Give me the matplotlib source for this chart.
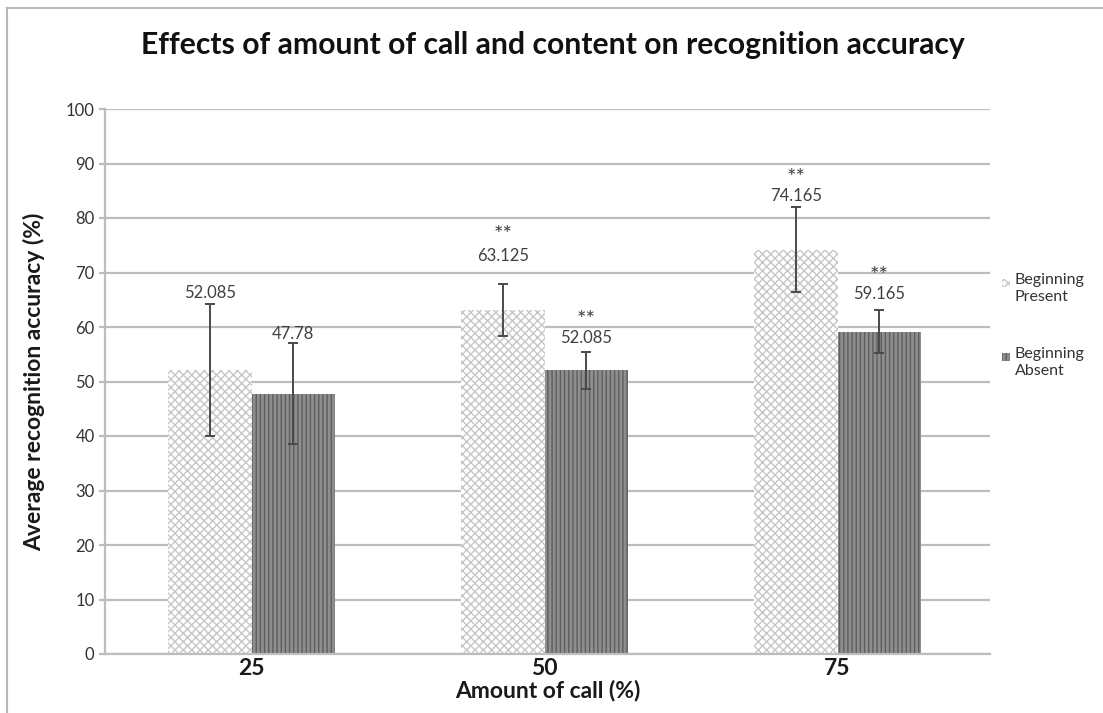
import numpy as np
import matplotlib
matplotlib.use("Agg")
import matplotlib.pyplot as plt
from matplotlib.patches import Rectangle
from matplotlib.lines import Line2D

# Data
categories = ["25", "50", "75"]
series_names = ["Beginning\nPresent", "Beginning\nAbsent"]
present_mean = [52.085, 63.125, 74.165]
absent_mean = [47.78, 52.085, 59.165]
present_err = [12.1, 4.8, 7.8]
absent_err = [9.3, 3.4, 3.9]
present_sig = ["", "**", "**"]
absent_sig = ["", "**", "**"]
y_ticks = [0, 10, 20, 30, 40, 50, 60, 70, 80, 90, 100]

plt.rcParams["font.family"] = ["Lato", "DejaVu Sans"]
plt.rcParams["hatch.linewidth"] = 1.0

W, H = 1103, 713
fig = plt.figure(figsize=(W / 100, H / 100), dpi=100)
fig.patch.set_facecolor("white")

# outer chart frame (top and left edges)
fig.add_artist(Line2D([7 / W, 1.0], [1 - 8 / H, 1 - 8 / H], color="#b8b8b8",
                      lw=1.5, transform=fig.transFigure))
fig.add_artist(Line2D([7 / W, 7 / W], [0.0, 1 - 8 / H], color="#b8b8b8",
                      lw=1.5, transform=fig.transFigure))

ax = fig.add_axes([105 / W, 1 - 654 / H, 885 / W, (654 - 109) / H])

x = np.arange(len(categories))
w = 0.285
grid_c = "#bdbdbd"

present_style = dict(facecolor="white", edgecolor="#c6c6c6", hatch="xxxx", linewidth=0)
absent_style = dict(facecolor="#8e8e8e", edgecolor="#5e5e5e", hatch="||||", linewidth=0)

ax.set_axisbelow(True)
ax.yaxis.grid(True, color=grid_c, lw=1.6)
ax.set_ylim(0, 100)
ax.set_xlim(-0.5, len(categories) - 0.48)
ax.set_yticks(y_ticks)

ax.bar(x - w / 2, present_mean, w, **present_style)
ax.bar(x + w / 2, absent_mean, w, **absent_style)

err_c = "#4a4a4a"
ax.errorbar(x - w / 2, present_mean, yerr=present_err, fmt="none", ecolor=err_c,
            elinewidth=1.4, capsize=3.5, capthick=1.4)
ax.errorbar(x + w / 2, absent_mean, yerr=absent_err, fmt="none", ecolor=err_c,
            elinewidth=1.4, capsize=3.5, capthick=1.4)

# value and significance labels above the error bars
label_pad = [[8.4, 20, 8], [6.7, 10, 11.5]]  # points above the error-bar tops
star_gap = [[15, 17, 15], [15, 15, 15]]
for s, (means, errs, sigs) in enumerate([(present_mean, present_err, present_sig),
                                         (absent_mean, absent_err, absent_sig)]):
    off = -w / 2 if s == 0 else w / 2
    for i, (m, e, sg) in enumerate(zip(means, errs, sigs)):
        ax.annotate(f"{m:g}", xy=(x[i] + off, m + e), xytext=(0, label_pad[s][i]),
                    textcoords="offset points", ha="center", va="center",
                    fontsize=12, color="#404040")
        if sg:
            ax.annotate(sg, xy=(x[i] + off, m + e),
                        xytext=(0, label_pad[s][i] + star_gap[s][i] - 2),
                        textcoords="offset points", ha="center", va="center",
                        fontsize=16, color="#404040")

for sp in ["top", "right"]:
    ax.spines[sp].set_visible(False)
for sp in ["left", "bottom"]:
    ax.spines[sp].set_color(grid_c)
    ax.spines[sp].set_linewidth(1.6)

ax.set_xticks(x)
ax.set_xticklabels(categories, fontsize=16.5, fontweight="bold", color="#1a1a1a")
ax.tick_params(axis="x", length=0, pad=3)
ax.tick_params(axis="y", length=4.5, color=grid_c, width=1.6, labelsize=12,
               labelcolor="#333333", pad=3)

ax.set_xlabel("Amount of call (%)", fontsize=16.5, fontweight="bold", color="#1a1a1a",
              labelpad=0)
ax.set_ylabel("Average recognition accuracy (%)", fontsize=16.5, fontweight="bold",
              color="#1a1a1a", labelpad=15)

fig.text((143 + 963) / 2 / W, 1 - 45 / H,
         "Effects of amount of call and content on recognition accuracy",
         ha="center", va="center", fontsize=21.7, fontweight="bold", color="#111111")

# legend to the right of the plot area
leg_rows = [283, 357]
for name, style, yr in zip(series_names, [present_style, absent_style], leg_rows):
    fig.add_artist(Rectangle((1002 / W, 1 - (yr + 4) / H), 8 / W, 8 / H,
                             transform=fig.transFigure, **style))
    fig.text(1015 / W, 1 - (yr - 10) / H, name, ha="left", va="top", fontsize=11.5,
             color="#333333", linespacing=1.3)

fig.savefig("out.png", dpi=100, facecolor="white")
